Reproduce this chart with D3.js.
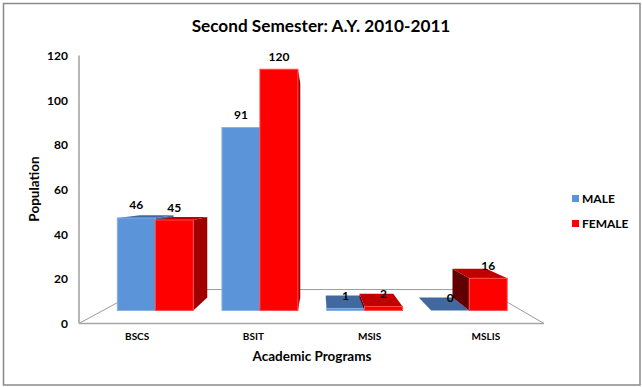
<!DOCTYPE html>
<html>
<head>
<meta charset="utf-8">
<script src="https://cdn.jsdelivr.net/npm/d3@7"></script>
<style>
  html, body { margin: 0; padding: 0; background: #fff; }
  svg { display: block; }
  text { font-family: Lato, "Open Sans", sans-serif; font-weight: 700; fill: #000; }
</style>
</head>
<body>
<div class="chart"></div>
<script>
const programs = ["BSCS", "BSIT", "MSIS", "MSLIS"];
const seriesNames = ["MALE", "FEMALE"];
const maleValues = [46, 91, 1, 0];
const femaleValues = [45, 120, 2, 16];
const yTicks = [0, 20, 40, 60, 80, 100, 120];

const palette = {
  MALE: { front: "#5b94d8", edge: "#86b0e4", top: "#41699f", right: "#41699f", left: "#2f4e78" },
  FEMALE: { front: "#ff0000", edge: "#ff4a4a", top: "#c00000", right: "#a00000", left: "#600000" },
};

const svg = d3.select(".chart").append("svg").attr("width", 642).attr("height", 387);

svg.append("rect")
  .attr("x", 3.5).attr("y", 3.5)
  .attr("width", 636.5).attr("height", 381.5)
  .attr("fill", "#fff").attr("stroke", "#8a8a8a").attr("stroke-width", 1.5);

const xScale = d3.scaleBand().domain(programs).range([79, 544]);
const xSeries = d3.scaleBand().domain(seriesNames).range([0, xScale.bandwidth()]).paddingOuter(0.377).paddingInner(0);
const yScale = d3.scaleLinear().domain([0, 120]).range([323.5, 55.5]);

// the 3D look: everything shrinks toward one vanishing point
const vanish = [319, 193];
const barFront = 0.1;
const barBack = 0.2;
const floorBack = 0.26;
const project = (x, y, k) => [x + (vanish[0] - x) * k, y + (vanish[1] - y) * k];
const poly = d3.line();

// floor lines
const x0 = xScale.range()[0];
const x1 = xScale.range()[1];
const y0 = yScale(0);
const floor = [[x0, y0], project(x0, y0, floorBack), project(x1, y0, floorBack), [x1, y0]];
svg.append("path")
  .attr("d", poly(floor))
  .attr("fill", "none").attr("stroke", "#9a9a9a").attr("stroke-width", 1);

svg.append("line")
  .attr("x1", x0).attr("x2", x1).attr("y1", y0).attr("y2", y0)
  .attr("stroke", "#a6a6a6").attr("stroke-width", 1.6);
svg.append("line")
  .attr("x1", x0).attr("x2", x0).attr("y1", yScale(120)).attr("y2", y0)
  .attr("stroke", "#a6a6a6").attr("stroke-width", 1.6);

const rows = [];
programs.forEach((p, i) => {
  rows.push({ program: p, series: "MALE", value: maleValues[i] });
  rows.push({ program: p, series: "FEMALE", value: femaleValues[i] });
});

rows.forEach((d) => {
  const left = xScale(d.program) + xSeries(d.series);
  const right = left + xSeries.bandwidth();
  const top = yScale(d.value);
  const c = palette[d.series];
  const fl = project(left, y0, barFront);
  const fr = project(right, y0, barFront);

  // sides only show when the bar stands clear of the vanishing point
  if (fr[0] < vanish[0]) {
    svg.append("path")
      .attr("d", poly([project(right, top, barFront), project(right, top, barBack), project(right, y0, barBack), project(right, y0, barFront)]))
      .attr("fill", c.right);
  }
  if (fl[0] > vanish[0]) {
    svg.append("path")
      .attr("d", poly([project(left, top, barFront), project(left, top, barBack), project(left, y0, barBack), project(left, y0, barFront)]))
      .attr("fill", c.left);
  }
  if (project(left, top, barFront)[1] > vanish[1]) {
    svg.append("path")
      .attr("d", poly([project(left, top, barFront), project(right, top, barFront), project(right, top, barBack), project(left, top, barBack)]))
      .attr("fill", c.top);
  }
  const ft = project(left, top, barFront)[1];
  svg.append("rect")
    .attr("x", fl[0]).attr("y", ft)
    .attr("width", fr[0] - fl[0]).attr("height", Math.max(fl[1] - ft, 0))
    .attr("fill", c.front).attr("stroke", c.edge).attr("stroke-width", 1);
});

// value labels go on last so they sit over the tops
svg.selectAll(".value")
  .data(rows)
  .enter()
  .append("text")
  .attr("class", "value")
  .attr("x", (d) => project(xScale(d.program) + xSeries(d.series) + xSeries.bandwidth() / 2, y0, barFront)[0])
  .attr("y", (d) => project(0, yScale(d.value), barFront)[1] - 8.5)
  .attr("text-anchor", "middle")
  .attr("font-size", 12)
  .text((d) => d.value);

const yAxis = d3.axisLeft(yScale).tickValues(yTicks).tickSize(0).tickPadding(11);
const gy = svg.append("g").attr("transform", "translate(79,0)").call(yAxis);
gy.select(".domain").remove();
gy.selectAll("text").attr("font-size", 12).style("font-family", "Lato").style("font-weight", 700);

const xAxis = d3.axisBottom(xScale).tickSize(0).tickPadding(10);
const gx = svg.append("g").attr("transform", "translate(0,323)").call(xAxis);
gx.select(".domain").remove();
gx.selectAll("text").attr("font-size", 10).style("font-family", "Lato").style("font-weight", 700);

svg.append("text")
  .attr("x", 321).attr("y", 32)
  .attr("text-anchor", "middle").attr("font-size", 17.2)
  .text("Second Semester: A.Y. 2010-2011");

svg.append("text")
  .attr("x", 312).attr("y", 361)
  .attr("text-anchor", "middle").attr("font-size", 13.5)
  .text("Academic Programs");

svg.append("text")
  .attr("transform", "translate(39,189) rotate(-90)")
  .attr("text-anchor", "middle").attr("font-size", 13.5)
  .text("Population");

const legend = svg.selectAll(".legend")
  .data(seriesNames)
  .enter()
  .append("g")
  .attr("class", "legend")
  .attr("transform", (d, i) => `translate(572,${198.5 + i * 25})`);
legend.append("rect")
  .attr("y", -3.5).attr("width", 7).attr("height", 7)
  .attr("fill", (d) => palette[d].front);
legend.append("text")
  .attr("x", 10).attr("y", 4.5)
  .attr("font-size", 12)
  .style("font-weight", 700)
  .text((d) => d);
</script>
</body>
</html>
